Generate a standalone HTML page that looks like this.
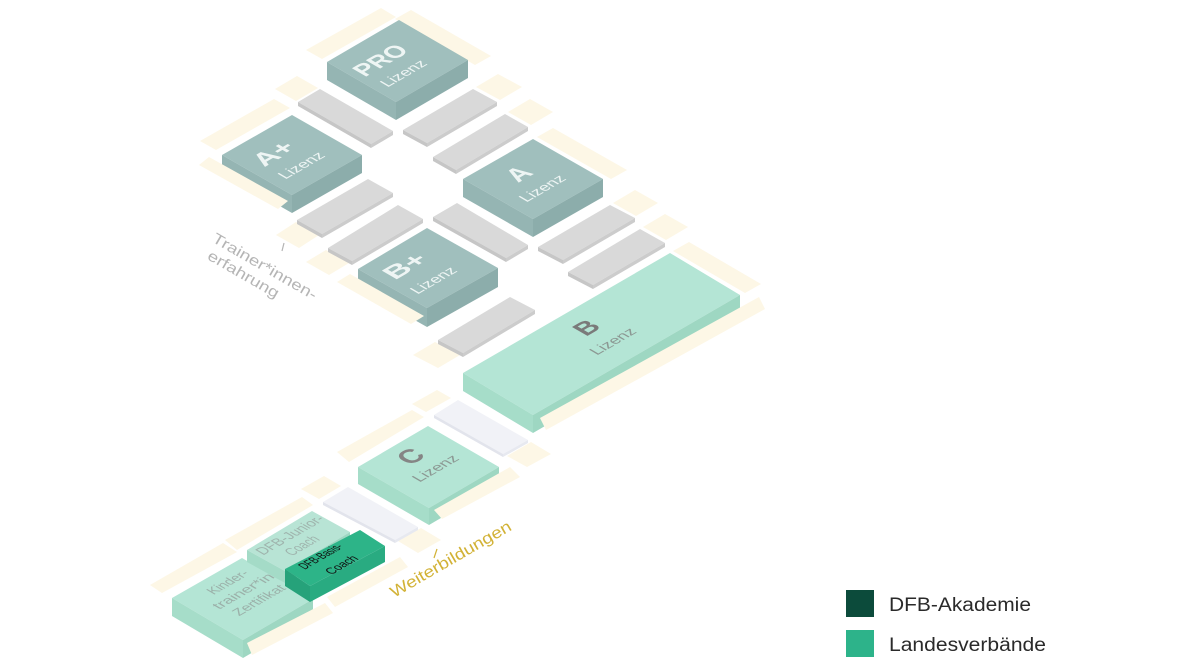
<!DOCTYPE html>
<html><head><meta charset="utf-8"><style>
html,body{margin:0;padding:0;background:#fff;}
svg{display:block;}
text{font-family:"Liberation Sans",sans-serif;}
</style></head><body>
<svg width="1180" height="664" viewBox="0 0 1180 664" xmlns="http://www.w3.org/2000/svg">
<rect width="1180" height="664" fill="#fff"/>
<!-- back cream pieces -->
<g fill="#fdf7e6">
<polygon points="306,50 381,8 396,17 322,59"/>
<polygon points="395,19 411,10 491,56 475,65"/>
<polygon points="200,141 274,99 290,108 216,150"/>
<polygon points="296,101 318,88 297,76 275,89"/>
<polygon points="476,87 498,74 522,87 500,100"/>
<polygon points="508,112 530,99 553,112 531,125"/>
<polygon points="537,137 553,128 627,170 611,179"/>
<polygon points="613,203 635,190 658,203 636,216"/>
<polygon points="643,227 665,214 688,227 666,240"/>
<polygon points="673,251 689,242 761,284 745,293"/>
<polygon points="435,342 460,355 438,368 413,355"/>
<polygon points="326,250 349,263 329,275 306,262"/>
<polygon points="296,222 319,235 299,248 276,235"/>
<polygon points="412,404 437,390 451,398 426,412"/>
<polygon points="337,452 412,410 424,417 349,462"/>
<polygon points="507,456 531,442 551,454 527,467"/>
<polygon points="301,489 324,476 341,486 319,499"/>
<polygon points="398,541 421,528 441,540 418,553"/>
<polygon points="150,585 223,543 237,552 162,593"/>
<polygon points="225,540 302,497 313,505 237,550"/>
<polygon points="327,597 400,557 408,567 335,607"/>
</g>
<!-- gray bars -->
<g>
<polygon fill="#d9d9d9" points="298,102 320,89 393,131 371,144"/><polygon fill="#c6c6c6" points="298,102 371,144 371,148 298,106"/><polygon fill="#cccccc" points="371,144 393,131 393,135 371,148"/>
<polygon fill="#d9d9d9" points="403,130 473,89 497,102 427,143"/><polygon fill="#c6c6c6" points="403,130 427,143 427,147 403,134"/><polygon fill="#cccccc" points="427,143 497,102 497,106 427,147"/>
<polygon fill="#d9d9d9" points="433,157 505,114 528,127 456,170"/><polygon fill="#c6c6c6" points="433,157 456,170 456,174 433,161"/><polygon fill="#cccccc" points="456,170 528,127 528,131 456,174"/>
<polygon fill="#d9d9d9" points="297,220 368,179 393,193 322,234"/><polygon fill="#c6c6c6" points="297,220 322,234 322,238 297,224"/><polygon fill="#cccccc" points="322,234 393,193 393,197 322,238"/>
<polygon fill="#d9d9d9" points="328,248 398,205 423,219 352,261"/><polygon fill="#c6c6c6" points="328,248 352,261 352,265 328,252"/><polygon fill="#cccccc" points="352,261 423,219 423,223 352,265"/>
<polygon fill="#d9d9d9" points="433,217 457,203 528,245 506,258"/><polygon fill="#c6c6c6" points="433,217 506,258 506,262 433,221"/><polygon fill="#cccccc" points="506,258 528,245 528,249 506,262"/>
<polygon fill="#d9d9d9" points="538,247 610,205 635,218 563,260"/><polygon fill="#c6c6c6" points="538,247 563,260 563,264 538,251"/><polygon fill="#cccccc" points="563,260 635,218 635,222 563,264"/>
<polygon fill="#d9d9d9" points="568,272 640,229 665,243 593,285"/><polygon fill="#c6c6c6" points="568,272 593,285 593,289 568,276"/><polygon fill="#cccccc" points="593,285 665,243 665,247 593,289"/>
<polygon fill="#d9d9d9" points="438,340 510,297 535,310 463,353"/><polygon fill="#c6c6c6" points="438,340 463,353 463,357 438,344"/><polygon fill="#cccccc" points="463,353 535,310 535,314 463,357"/>
</g>
<!-- lavender bars -->
<g>
<polygon fill="#f1f2f7" points="434,415 458,400 528,440 503,454"/><polygon fill="#e2e4ec" points="434,415 503,454 503,457 434,418"/><polygon fill="#e7e9f0" points="503,454 528,440 528,443 503,457"/>
<polygon fill="#f1f2f7" points="323,502 348,487 418,527 395,540"/><polygon fill="#e2e4ec" points="323,502 395,540 395,543 323,505"/><polygon fill="#e7e9f0" points="395,540 418,527 418,530 395,543"/>
</g>
<!-- teal boxes -->
<g>
<polygon fill="#a0bfbd" points="327,62 399,20 468,60 396,102"/><polygon fill="#95b5b3" points="327,62 396,102 396,120 327,80"/><polygon fill="#8cadab" points="396,102 468,60 468,78 396,120"/>
<polygon fill="#a0bfbd" points="222,155 292,115 362,155 292,195"/><polygon fill="#95b5b3" points="222,155 292,195 292,213 222,173"/><polygon fill="#8cadab" points="292,195 362,155 362,173 292,213"/>
<polygon fill="#a0bfbd" points="463,179 533,139 603,179 533,219"/><polygon fill="#95b5b3" points="463,179 533,219 533,237 463,197"/><polygon fill="#8cadab" points="533,219 603,179 603,197 533,237"/>
<polygon fill="#a0bfbd" points="358,269 427,228 498,268 427,308"/><polygon fill="#95b5b3" points="358,269 427,308 427,327 358,288"/><polygon fill="#8cadab" points="427,308 498,268 498,287 427,327"/>
</g>
<!-- mint boxes -->
<g>
<polygon fill="#b4e5d5" points="463,373 670,253 740,295 533,415"/><polygon fill="#a6ddc9" points="463,373 533,415 533,433 463,391"/><polygon fill="#9ed7c2" points="533,415 740,295 740,313 533,433"/>
<polygon fill="#b4e5d5" points="358,467 428,426 499,467 429,508"/><polygon fill="#a6ddc9" points="358,467 429,508 429,525 358,484"/><polygon fill="#9ed7c2" points="429,508 499,467 499,484 429,525"/>
<polygon fill="#b4e5d5" points="172,598 242,558 313,599 243,640"/><polygon fill="#a6ddc9" points="172,598 243,640 243,658 172,616"/><polygon fill="#9ed7c2" points="243,640 313,599 313,617 243,658"/>
</g>
<!-- Kinder text (under junior/basis) -->
<g fill="#9bb0a9" font-size="14" text-anchor="middle">
<text transform="matrix(0.866 -0.5 0.866 0.5 231.8 584.5)" textLength="42" lengthAdjust="spacingAndGlyphs">Kinder-</text>
<text transform="matrix(0.866 -0.5 0.866 0.5 247.3 593.5)" textLength="65" lengthAdjust="spacingAndGlyphs">trainer*in</text>
<text transform="matrix(0.866 -0.5 0.866 0.5 262.9 602.5)" textLength="55" lengthAdjust="spacingAndGlyphs">Zertifikat</text>
</g>
<!-- Junior -->
<polygon fill="#b8e4d5" points="247,550 312,511 350,532 285,571"/><polygon fill="#a4dbc7" points="247,550 285,571 285,583 247,562"/><polygon fill="#9ed7c2" points="285,571 350,532 350,544 285,583"/>
<g fill="#9fb4ad" font-size="15" text-anchor="middle">
<text transform="matrix(0.866 -0.5 0.866 0.5 294.3 537.5)" textLength="72" lengthAdjust="spacingAndGlyphs">DFB-Junior-</text>
<text transform="matrix(0.866 -0.5 0.866 0.5 306.3 548)" textLength="33" lengthAdjust="spacingAndGlyphs">Coach</text>
</g>
<!-- Basis -->
<polygon fill="#2db488" points="285,569 360,530 385,546 310,586"/><polygon fill="#26a27a" points="285,569 310,586 310,602 285,586"/><polygon fill="#29ab81" points="310,586 385,546 385,562 310,602"/>
<g fill="#111" font-size="13" text-anchor="middle">
<text transform="matrix(0.866 -0.5 0.866 0.5 324.3 558.5)" textLength="45" lengthAdjust="spacingAndGlyphs">DFB-Basis-</text>
<text transform="matrix(0.866 -0.5 0.866 0.5 345.3 567)" textLength="32" lengthAdjust="spacingAndGlyphs">Coach</text>
</g>
<!-- front cream pieces -->
<g fill="#fdf7e6">
<polygon points="540,418 759,297 765,309 546,430"/>
<polygon points="337,282 350,274 424,316 411,324"/>
<polygon points="199,165 209,157 288,201 278,209"/>
<polygon points="434,510 510,467 520,477 442,519"/>
<polygon points="247,643 325,603 333,613 252,655"/>
</g>
<!-- box labels -->
<g fill="#eef5f4" text-anchor="middle">
<text font-size="24" font-weight="bold" transform="matrix(0.866 -0.5 0.866 0.5 387.4 64.3)" textLength="52" lengthAdjust="spacingAndGlyphs">PRO</text>
<text font-size="15" transform="matrix(0.866 -0.5 0.866 0.5 407.8 75.8)" textLength="47" lengthAdjust="spacingAndGlyphs">Lizenz</text>
<text font-size="25" font-weight="bold" transform="matrix(0.866 -0.5 0.866 0.5 280.8 157.8)" textLength="38" lengthAdjust="spacingAndGlyphs">A+</text>
<text font-size="15" transform="matrix(0.866 -0.5 0.866 0.5 305.7 167.8)" textLength="47" lengthAdjust="spacingAndGlyphs">Lizenz</text>
<text font-size="26" font-weight="bold" transform="matrix(0.866 -0.5 0.866 0.5 526.3 178.3)">A</text>
<text font-size="15" transform="matrix(0.866 -0.5 0.866 0.5 546.7 190.8)" textLength="47" lengthAdjust="spacingAndGlyphs">Lizenz</text>
<text font-size="25" font-weight="bold" transform="matrix(0.866 -0.5 0.866 0.5 412.3 270.3)" textLength="40" lengthAdjust="spacingAndGlyphs">B+</text>
<text font-size="15" transform="matrix(0.866 -0.5 0.866 0.5 437.8 282.8)" textLength="47" lengthAdjust="spacingAndGlyphs">Lizenz</text>
</g>
<g text-anchor="middle">
<text fill="#7a7a7a" font-size="26" font-weight="bold" transform="matrix(0.866 -0.5 0.866 0.5 594.1 332)">B</text>
<text fill="#8c9893" font-size="15" transform="matrix(0.866 -0.5 0.866 0.5 617.2 343.8)" textLength="47" lengthAdjust="spacingAndGlyphs">Lizenz</text>
<text fill="#858585" font-size="27" font-weight="bold" transform="matrix(0.866 -0.5 0.866 0.5 418.6 461)">C</text>
<text fill="#8c9893" font-size="15" transform="matrix(0.866 -0.5 0.866 0.5 439.8 470.8)" textLength="47" lengthAdjust="spacingAndGlyphs">Lizenz</text>
</g>
<!-- side labels -->
<g fill="#b5b5b5" font-size="15">
<text transform="translate(211.2 241.2) rotate(30)" textLength="118" lengthAdjust="spacingAndGlyphs">Trainer*innen-</text>
<text transform="translate(206.4 258.6) rotate(30)" textLength="80" lengthAdjust="spacingAndGlyphs">erfahrung</text>
</g>
<line x1="284" y1="243" x2="282" y2="251" stroke="#b5b5b5" stroke-width="1.2"/>
<text fill="#d2b236" font-size="16" transform="translate(394 598) rotate(-30)" textLength="137" lengthAdjust="spacingAndGlyphs">Weiterbildungen</text>
<line x1="437" y1="549" x2="434" y2="558" stroke="#d2b236" stroke-width="1.2"/>
<!-- legend -->
<rect x="846" y="590" width="28" height="27" fill="#0c4b3b"/>
<text x="889" y="611" font-size="19" fill="#2a2a2a" textLength="142" lengthAdjust="spacingAndGlyphs">DFB-Akademie</text>
<rect x="846" y="630" width="28" height="27" fill="#2db38a"/>
<text x="889" y="651" font-size="19" fill="#2a2a2a" textLength="157" lengthAdjust="spacingAndGlyphs">Landesverbände</text>
</svg>
</body></html>
